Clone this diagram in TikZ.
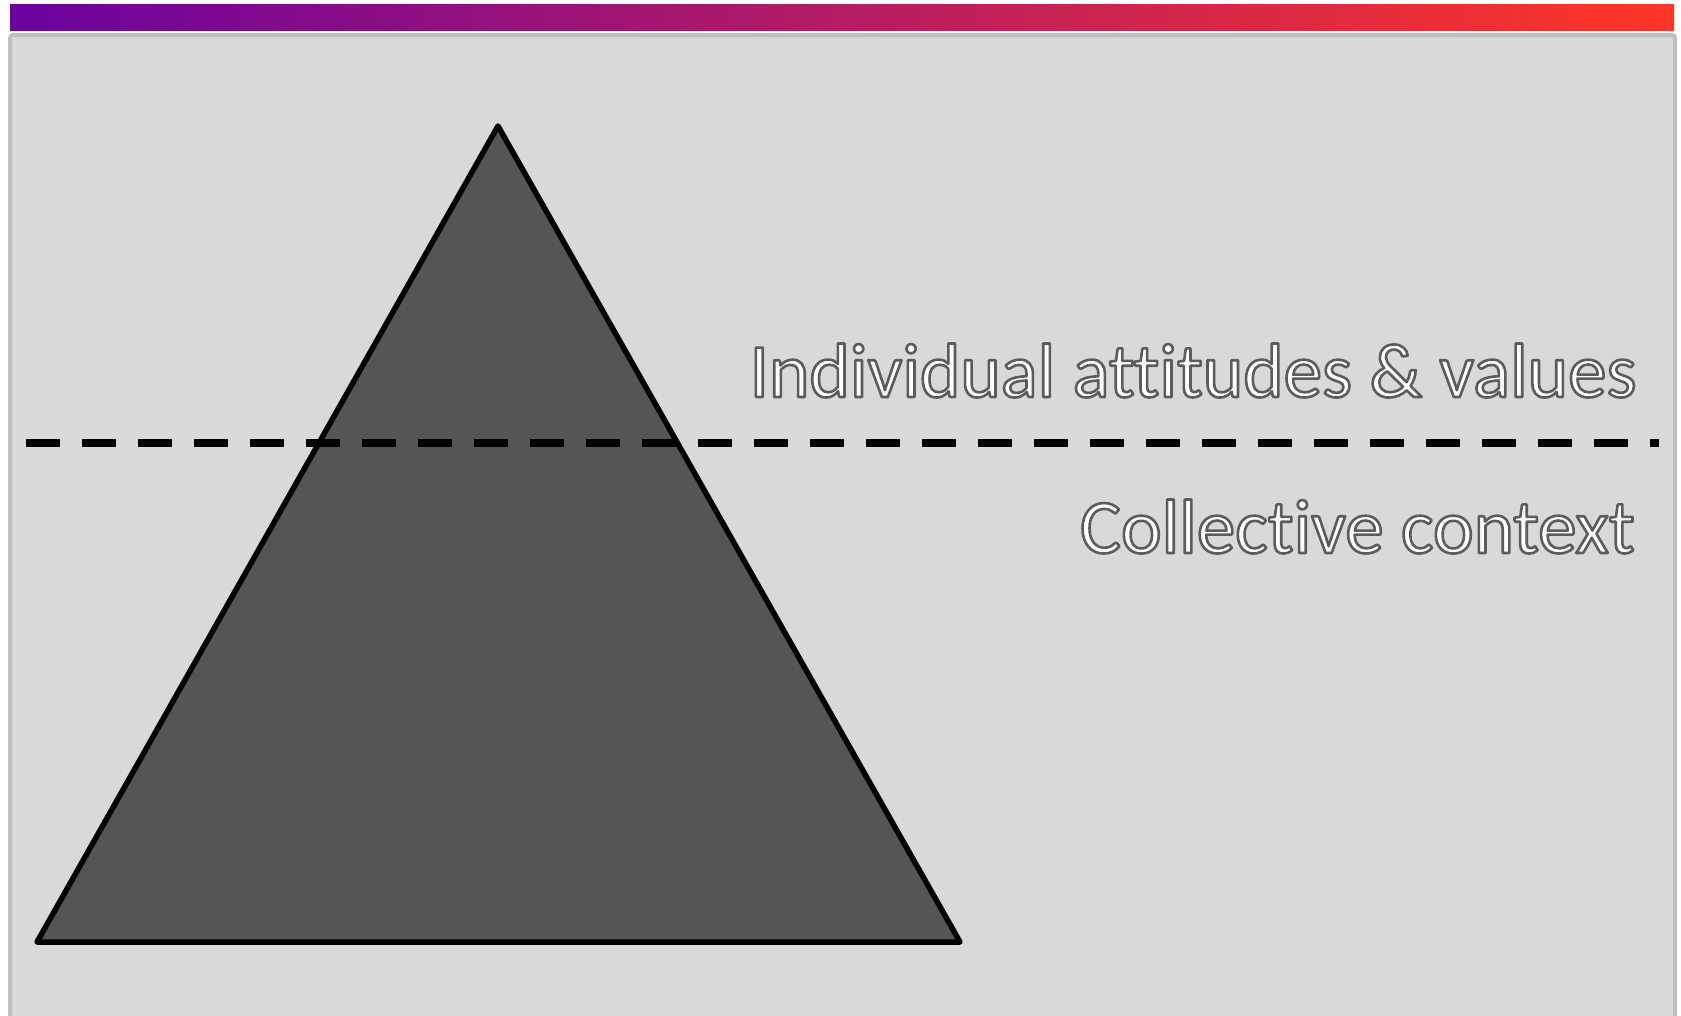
\documentclass[tikz,border=0pt]{standalone}
\usepackage{fontspec}
\setmainfont[Ligatures=NoCommon]{Carlito}
\usepackage{xcolor}
\usetikzlibrary{positioning, calc}

\definecolor{barPurple}{HTML}{6A02A0}
\definecolor{barRed}{HTML}{FF3626}
\definecolor{panelFill}{HTML}{D9D9D9}
\definecolor{panelEdge}{HTML}{BFBFBF}
\definecolor{pyramidFill}{HTML}{555555}

% white letters with a thin grey outline (fill, then stroke)
\newcommand{\outlined}[1]{\color{white}%
  \special{pdf:literal direct 0.36 0.36 0.36 RG 2.6 w 1 j 2 Tr}#1%
  \special{pdf:literal direct 0 Tr}}

\begin{document}
\begin{tikzpicture}[x=1pt, y=-1pt,
    panel/.style={fill=panelFill, draw=panelEdge, line width=4pt, rounded corners=3pt},
    pyramid/.style={fill=pyramidFill, draw=black, line width=5.5pt, line join=round},
    divider/.style={draw=black, line width=8.5pt, dash pattern=on 34pt off 22pt},
    level text/.style={anchor=base east, inner sep=0pt, font=\fontsize{77}{86}\selectfont}]

        \useasboundingbox (0,0) rectangle (1681,1015);
        \clip (0,0) rectangle (1681,1015);

        % ==========================================
        % Header bar and panel
        % ==========================================
        \shade[left color=barPurple, right color=barRed] (10,4) rectangle (1674,30);
        \path[panel] (10,35) rectangle (1675,1040);

        % ==========================================
        % Pyramid
        % ==========================================
        \coordinate (apex) at (498,126);
        \coordinate (base_l) at (37,942);
        \coordinate (base_r) at (960,942);
        \path[pyramid] (apex) -- (base_r) -- (base_l) -- cycle;

        % ==========================================
        % Dividing line
        % ==========================================
        \coordinate (cut_l) at (26,443);
        \coordinate (cut_r) at (1659,443);
        \draw[divider] (cut_l) -- (cut_r);

        % ==========================================
        % Labels
        % ==========================================
        \node[level text] (indiv) at (1637,397) {\outlined{Individual attitudes \& values}};
        \node[level text] (collect) at (1635,553) {\outlined{Collective context}};

\end{tikzpicture}
\end{document}
